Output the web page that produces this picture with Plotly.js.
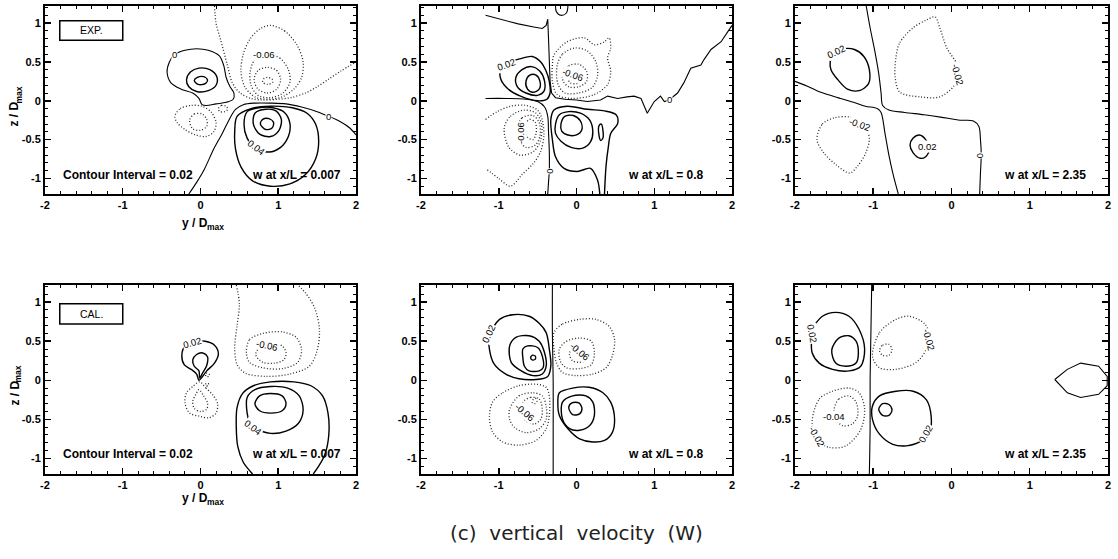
<!DOCTYPE html>
<html><head><meta charset="utf-8">
<script src="https://cdn.plot.ly/plotly-3.0.1.min.js"></script>
<style>html,body{margin:0;padding:0;background:#fff}#chart{width:1118px;height:559px}</style>
</head><body><div id="chart"></div>
<script>
// ---------- axis ticks ----------
const yTickVals = [-2, -1, 0, 1, 2];
const yTickText = ['-2', '-1', '0', '1', '2'];
const zTickVals = [-1, -0.5, 0, 0.5, 1];
const zTickText = ['-1', '-0.5', '0', '0.5', '1'];
const stations = ['0.007', '0.8', '2.35'];
const contourInterval = 0.02;

// ---------- Panel 1 : EXP, x/L = 0.007   (points are [y/Dmax, z/Dmax]) ----------
const P1_n02a = [[0.18,1.22],[0.2,1.0],[0.26,0.78],[0.34,0.48],[0.41,0.23],[0.51,0.1],[0.65,0.03],[0.8,0.01],[1.0,0.02],[1.16,0.04],[1.35,0.1],[1.5,0.18],[1.65,0.28],[1.8,0.38],[2.0,0.5]];
const P1_n04a = [[0.9,0.97],[1.08,0.9],[1.24,0.72],[1.32,0.5],[1.3,0.3],[1.2,0.15],[1.05,0.05],[0.88,0.02],[0.7,0.05],[0.57,0.18],[0.52,0.38],[0.55,0.6],[0.64,0.8],[0.77,0.93]];
const P1_n06a = [[0.85,0.6],[1.02,0.55],[1.13,0.4],[1.15,0.24],[1.06,0.1],[0.9,0.04],[0.74,0.07],[0.65,0.2],[0.64,0.38],[0.7,0.53]];
const P1_n08a = [[0.86,0.43],[0.98,0.39],[1.03,0.27],[0.98,0.15],[0.86,0.1],[0.74,0.15],[0.69,0.27],[0.74,0.39]];
const P1_n10a = [[0.86,0.3],[0.92,0.28],[0.93,0.24],[0.86,0.21],[0.8,0.24],[0.81,0.28]];
const P1_z0a = [[-0.34,0.59],[-0.2,0.65],[-0.05,0.67],[0.1,0.65],[0.24,0.58],[0.3,0.45],[0.33,0.3],[0.38,0.18],[0.43,0.1],[0.42,0.02],[0.33,-0.02],[0.2,-0.04],[0.08,-0.06],[0.02,-0.05],[-0.02,0.03],[-0.1,0.1],[-0.25,0.15],[-0.38,0.23],[-0.43,0.37],[-0.4,0.5]];
const P1_z0b = [[-0.15,-1.2],[-0.05,-1.05],[0.05,-0.88],[0.17,-0.62],[0.28,-0.42],[0.37,-0.24],[0.45,-0.11],[0.55,-0.05],[0.7,-0.03],[0.9,-0.03],[1.1,-0.04],[1.3,-0.08],[1.5,-0.14],[1.65,-0.2],[1.8,-0.27],[1.92,-0.35],[2.0,-0.44]];
const P1_p02a = [[0.47,-0.2],[0.44,-0.4],[0.45,-0.62],[0.52,-0.85],[0.67,-1.03],[0.9,-1.1],[1.15,-1.07],[1.35,-0.95],[1.48,-0.75],[1.52,-0.52],[1.48,-0.3],[1.37,-0.16],[1.18,-0.09],[0.9,-0.07],[0.65,-0.1]];
const P1_p04a = [[0.6,-0.14],[0.56,-0.3],[0.6,-0.48],[0.71,-0.61],[0.88,-0.66],[1.03,-0.6],[1.13,-0.46],[1.15,-0.29],[1.08,-0.15],[0.93,-0.09],[0.75,-0.09]];
const P1_p06a = [[0.7,-0.16],[0.68,-0.3],[0.76,-0.43],[0.9,-0.46],[1.01,-0.38],[1.04,-0.24],[0.97,-0.13],[0.84,-0.11]];
const P1_p08a = [[0.77,-0.3],[0.8,-0.24],[0.88,-0.23],[0.94,-0.28],[0.92,-0.35],[0.84,-0.37]];
const P1_p02b = [[-0.18,0.27],[-0.13,0.37],[-0.02,0.42],[0.12,0.4],[0.21,0.31],[0.2,0.2],[0.1,0.13],[-0.05,0.12],[-0.15,0.18]];
const P1_p04b = [[-0.08,0.26],[-0.04,0.3],[0.04,0.31],[0.09,0.27],[0.06,0.22],[-0.03,0.21]];
const P1_n02b = [[-0.33,-0.2],[-0.26,-0.1],[-0.12,-0.06],[0.02,-0.07],[0.14,-0.15],[0.2,-0.28],[0.17,-0.4],[0.07,-0.46],[-0.06,-0.44],[-0.2,-0.37],[-0.3,-0.28]];
const P1_n04b = [[-0.14,-0.25],[-0.08,-0.17],[0.02,-0.17],[0.08,-0.24],[0.08,-0.33],[0.0,-0.38],[-0.1,-0.36]];
const P1_n02c = [[0.23,-0.1],[0.27,-0.06],[0.33,-0.07],[0.35,-0.11],[0.31,-0.14],[0.25,-0.14]];
const P1_labels = [[-0.34,0.59,'0',0],[0.82,0.6,'-0.06',0],[1.65,-0.2,'0',0],[0.72,-0.6,'0.04',38]];

// ---------- Panel 2 : EXP, x/L = 0.8 ----------
const P2_z0top = [[-0.27,1.22],[-0.26,1.15],[-0.2,1.1],[-0.13,1.13],[-0.11,1.22]];
const P2_z0a = [[-1.17,1.1],[-0.95,1.04],[-0.75,0.99],[-0.55,0.95],[-0.44,0.93],[-0.39,0.97],[-0.37,1.05],[-0.36,0.8],[-0.35,0.5],[-0.34,0.25],[-0.32,0.1],[-0.27,0.04],[-0.15,0.02],[0.0,0.01],[0.14,-0.01],[0.31,0.01],[0.4,0.06],[0.53,0.03],[0.65,0.05],[0.74,0.06],[0.83,0.03],[0.91,-0.16],[1.0,-0.01],[1.08,0.06],[1.13,-0.01],[1.19,0.01],[1.3,0.1],[1.38,0.23],[1.47,0.42],[1.6,0.46],[1.64,0.53],[1.73,0.66],[1.86,0.76],[2.0,0.97]];
const P2_z0b = [[-1.17,0.03],[-0.9,0.03],[-0.65,0.02],[-0.5,-0.01],[-0.41,-0.08],[-0.37,-0.2],[-0.36,-0.4],[-0.35,-0.65],[-0.35,-0.9],[-0.36,-1.05],[-0.37,-1.2]];
const P2_p02a = [[0.3,-1.2],[0.27,-1.02],[0.18,-0.87],[0.01,-0.91],[-0.16,-0.87],[-0.27,-0.72],[-0.31,-0.5],[-0.33,-0.24],[-0.29,-0.12],[-0.12,-0.07],[0.14,-0.11],[0.36,-0.13],[0.51,-0.18],[0.53,-0.29],[0.44,-0.42],[0.41,-0.59],[0.38,-0.84],[0.36,-1.2]];
const P2_p04a = [[-0.27,-0.3],[-0.22,-0.18],[-0.1,-0.14],[0.05,-0.16],[0.17,-0.25],[0.21,-0.4],[0.18,-0.53],[0.08,-0.61],[-0.07,-0.6],[-0.2,-0.52],[-0.27,-0.42]];
const P2_p06a = [[-0.2,-0.3],[-0.15,-0.2],[-0.04,-0.19],[0.05,-0.26],[0.07,-0.37],[0.0,-0.44],[-0.11,-0.44],[-0.19,-0.39]];
const P2_p02s = [[0.29,-0.32],[0.32,-0.3],[0.34,-0.38],[0.34,-0.48],[0.31,-0.51],[0.29,-0.45]];
const P2_p02b = [[-0.97,0.44],[-0.86,0.5],[-0.73,0.54],[-0.57,0.57],[-0.46,0.5],[-0.39,0.38],[-0.35,0.25],[-0.34,0.1],[-0.38,0.02],[-0.5,0.0],[-0.72,0.06],[-0.89,0.16],[-0.98,0.3]];
const P2_p04b = [[-0.78,0.3],[-0.7,0.4],[-0.58,0.44],[-0.47,0.38],[-0.41,0.25],[-0.42,0.12],[-0.5,0.07],[-0.65,0.1],[-0.76,0.18]];
const P2_p06b = [[-0.65,0.25],[-0.6,0.33],[-0.52,0.33],[-0.47,0.25],[-0.48,0.15],[-0.56,0.11],[-0.63,0.15]];
const P2_n02a = [[-0.29,0.59],[-0.12,0.76],[0.1,0.81],[0.23,0.72],[0.36,0.76],[0.42,0.81],[0.44,0.68],[0.4,0.55],[0.44,0.38],[0.4,0.21],[0.23,0.08],[-0.07,0.03],[-0.25,0.08],[-0.31,0.25],[-0.31,0.46]];
const P2_n04a = [[-0.25,0.45],[-0.18,0.6],[-0.02,0.68],[0.14,0.64],[0.25,0.5],[0.27,0.32],[0.2,0.17],[0.03,0.1],[-0.15,0.1],[-0.24,0.22]];
const P2_n06a = [[-0.18,0.35],[-0.1,0.45],[0.03,0.47],[0.13,0.38],[0.13,0.25],[0.03,0.18],[-0.1,0.18],[-0.17,0.25]];
const P2_n08a = [[-0.1,0.27],[-0.04,0.31],[0.04,0.3],[0.06,0.25],[0.0,0.22],[-0.08,0.23]];
const P2_n02b = [[-1.17,-0.24],[-1.02,-0.14],[-0.85,-0.07],[-0.65,-0.06],[-0.5,-0.12],[-0.44,-0.25],[-0.42,-0.45],[-0.46,-0.65],[-0.55,-0.8],[-0.7,-0.95],[-0.85,-1.1],[-1.0,-1.0],[-1.17,-0.87]];
const P2_n04b = [[-0.93,-0.35],[-0.85,-0.2],[-0.68,-0.12],[-0.52,-0.16],[-0.45,-0.3],[-0.46,-0.5],[-0.55,-0.65],[-0.72,-0.7],[-0.87,-0.6]];
const P2_n06b = [[-0.76,-0.35],[-0.7,-0.22],[-0.56,-0.19],[-0.48,-0.28],[-0.47,-0.45],[-0.53,-0.57],[-0.65,-0.6],[-0.74,-0.5]];
const P2_n08b = [[-0.66,-0.3],[-0.6,-0.24],[-0.53,-0.28],[-0.52,-0.42],[-0.56,-0.5],[-0.63,-0.47],[-0.67,-0.38]];
const P2_labels = [[-0.9,0.47,'0.02',-20],[-0.05,0.34,'-0.06',20],[-0.72,-0.42,'-0.06',-90],[-0.35,-0.91,'0',-90],[1.2,0.01,'0',0]];

// ---------- Panel 3 : EXP, x/L = 2.35 ----------
const P3_z0a = [[-1.09,1.22],[-1.04,0.94],[-0.98,0.64],[-0.93,0.35],[-0.9,0.1],[-0.88,-0.06],[-0.8,-0.12],[-0.6,-0.15],[-0.35,-0.18],[-0.14,-0.21],[0.11,-0.25],[0.28,-0.26],[0.35,-0.33],[0.37,-0.5],[0.38,-0.69],[0.37,-0.93],[0.36,-1.2]];
const P3_z0b = [[-2.0,0.25],[-1.85,0.19],[-1.72,0.13],[-1.55,0.07],[-1.42,0.03],[-1.25,-0.02],[-1.1,-0.07],[-0.95,-0.1],[-0.9,-0.15],[-0.85,-0.42],[-0.8,-0.7],[-0.75,-0.93],[-0.68,-1.2]];
const P3_p02a = [[-1.55,0.5],[-1.5,0.62],[-1.38,0.67],[-1.24,0.66],[-1.12,0.57],[-1.05,0.4],[-1.06,0.22],[-1.18,0.13],[-1.33,0.15],[-1.46,0.28],[-1.54,0.4]];
const P3_n02a = [[-0.71,0.56],[-0.66,0.75],[-0.49,0.94],[-0.32,1.04],[-0.21,1.08],[-0.15,0.94],[-0.06,0.68],[0.07,0.47],[0.09,0.33],[0.03,0.19],[-0.15,0.05],[-0.4,0.05],[-0.66,0.11],[-0.72,0.3]];
const P3_n02b = [[-1.72,-0.5],[-1.65,-0.3],[-1.5,-0.22],[-1.3,-0.21],[-1.13,-0.29],[-1.05,-0.48],[-1.1,-0.68],[-1.2,-0.84],[-1.3,-0.93],[-1.48,-0.82],[-1.64,-0.66]];
const P3_p02b = [[-0.49,-0.48],[-0.41,-0.44],[-0.33,-0.5],[-0.28,-0.62],[-0.33,-0.72],[-0.4,-0.74],[-0.49,-0.67],[-0.53,-0.57]];
const P3_labels = [[-1.47,0.63,'0.02',-25],[0.08,0.34,'-0.02',75],[-1.17,-0.3,'-0.02',20],[-0.31,-0.59,'0.02',0],[0.38,-0.7,'0',90]];

// ---------- Panel 4 : CAL, x/L = 0.007 ----------
const P4_n02a = [[0.46,1.22],[0.5,0.98],[0.47,0.7],[0.44,0.42],[0.47,0.2],[0.58,0.09],[0.85,0.05],[1.15,0.08],[1.4,0.18],[1.5,0.38],[1.53,0.65],[1.47,0.92],[1.35,1.12],[1.25,1.22]];
const P4_n04a = [[0.59,0.35],[0.63,0.52],[0.8,0.6],[1.05,0.62],[1.23,0.55],[1.3,0.39],[1.25,0.23],[1.06,0.15],[0.8,0.16],[0.63,0.23]];
const P4_n06a = [[0.71,0.33],[0.77,0.43],[0.9,0.47],[1.05,0.44],[1.1,0.35],[1.07,0.26],[0.95,0.22],[0.8,0.23]];
const P4_p02a = [[0.67,-1.2],[0.55,-1.05],[0.48,-0.85],[0.46,-0.6],[0.47,-0.35],[0.54,-0.17],[0.68,-0.07],[0.9,-0.02],[1.2,-0.02],[1.42,-0.07],[1.57,-0.2],[1.64,-0.42],[1.65,-0.7],[1.6,-0.95],[1.52,-1.1],[1.45,-1.2]];
const P4_p04a = [[0.6,-0.42],[0.6,-0.22],[0.7,-0.12],[0.9,-0.08],[1.12,-0.1],[1.27,-0.2],[1.32,-0.38],[1.26,-0.55],[1.1,-0.65],[0.9,-0.68],[0.72,-0.62],[0.63,-0.53]];
const P4_p06a = [[0.7,-0.3],[0.76,-0.2],[0.9,-0.17],[1.05,-0.2],[1.1,-0.3],[1.05,-0.39],[0.9,-0.42],[0.76,-0.39]];
const P4_p02b = [[-0.02,0.0],[-0.05,0.08],[-0.12,0.14],[-0.21,0.2],[-0.24,0.32],[-0.2,0.44],[-0.08,0.5],[0.06,0.5],[0.18,0.45],[0.23,0.34],[0.18,0.22],[0.08,0.12],[0.02,0.04]];
const P4_p04b = [[-0.01,0.03],[-0.02,0.12],[-0.08,0.18],[-0.1,0.26],[-0.05,0.33],[0.03,0.35],[0.09,0.3],[0.08,0.19],[0.03,0.1]];
const P4_n02b = [[-0.01,-0.02],[0.07,-0.1],[0.16,-0.19],[0.22,-0.3],[0.2,-0.42],[0.11,-0.48],[-0.01,-0.46],[-0.14,-0.42],[-0.2,-0.29],[-0.18,-0.16],[-0.1,-0.08]];
const P4_n04b = [[-0.02,-0.12],[0.04,-0.2],[0.09,-0.29],[0.08,-0.37],[0.0,-0.4],[-0.08,-0.36],[-0.1,-0.27],[-0.06,-0.18]];
const P4_n02c = [[0.07,0.09],[0.11,0.08],[0.11,0.05],[0.07,0.05]];
const P4_n02d = [[0.07,-0.04],[0.1,-0.04],[0.1,-0.07],[0.07,-0.07]];
const P4_labels = [[-0.1,0.48,'0.02',-15],[0.86,0.44,'-0.06',12],[0.68,-0.6,'0.04',38]];

// ---------- Panel 5 : CAL, x/L = 0.8 ----------
const P5_z0a = [[-0.31,1.22],[-0.31,0.6],[-0.3,0.0],[-0.3,-0.6],[-0.3,-1.2]];
const P5_p02a = [[-1.12,0.57],[-0.99,0.78],[-0.82,0.84],[-0.61,0.82],[-0.48,0.73],[-0.39,0.61],[-0.35,0.4],[-0.33,0.19],[-0.37,0.05],[-0.52,0.01],[-0.74,0.02],[-0.91,0.08],[-1.06,0.21],[-1.12,0.4]];
const P5_p04a = [[-0.86,0.44],[-0.78,0.55],[-0.61,0.57],[-0.48,0.5],[-0.41,0.35],[-0.39,0.18],[-0.44,0.08],[-0.56,0.06],[-0.71,0.12],[-0.84,0.23]];
const P5_p06a = [[-0.69,0.4],[-0.63,0.44],[-0.5,0.42],[-0.44,0.31],[-0.43,0.16],[-0.48,0.12],[-0.61,0.12],[-0.67,0.18],[-0.69,0.29]];
const P5_p08a = [[-0.59,0.29],[-0.57,0.32],[-0.53,0.31],[-0.53,0.27],[-0.57,0.26]];
const P5_n02a = [[-0.29,0.61],[-0.18,0.72],[0.04,0.78],[0.25,0.78],[0.42,0.69],[0.49,0.52],[0.46,0.31],[0.38,0.16],[0.21,0.08],[-0.01,0.06],[-0.18,0.1],[-0.26,0.23],[-0.29,0.4]];
const P5_n04a = [[-0.22,0.4],[-0.13,0.5],[0.04,0.54],[0.19,0.5],[0.23,0.35],[0.19,0.2],[0.04,0.15],[-0.13,0.16],[-0.21,0.25]];
const P5_n06a = [[-0.09,0.33],[-0.05,0.42],[0.06,0.42],[0.14,0.33],[0.12,0.25],[0.04,0.23],[-0.05,0.25]];
const P5_n02b = [[-1.08,-0.28],[-0.95,-0.16],[-0.74,-0.07],[-0.52,-0.05],[-0.39,-0.09],[-0.35,-0.2],[-0.35,-0.45],[-0.39,-0.62],[-0.52,-0.77],[-0.74,-0.83],[-0.95,-0.79],[-1.08,-0.66],[-1.12,-0.47]];
const P5_n04b = [[-0.86,-0.37],[-0.74,-0.2],[-0.56,-0.16],[-0.44,-0.2],[-0.39,-0.33],[-0.39,-0.5],[-0.48,-0.62],[-0.65,-0.67],[-0.8,-0.6],[-0.86,-0.5]];
const P5_n06b = [[-0.69,-0.28],[-0.59,-0.22],[-0.48,-0.24],[-0.44,-0.37],[-0.46,-0.5],[-0.54,-0.56],[-0.65,-0.52],[-0.7,-0.4]];
const P5_n08b = [[-0.56,-0.25],[-0.53,-0.23],[-0.51,-0.27],[-0.54,-0.3],[-0.57,-0.28]];
const P5_p02b = [[-0.22,-0.16],[-0.05,-0.1],[0.16,-0.09],[0.34,-0.16],[0.44,-0.28],[0.49,-0.5],[0.46,-0.67],[0.36,-0.77],[0.21,-0.79],[0.04,-0.75],[-0.11,-0.62],[-0.22,-0.45],[-0.24,-0.28]];
const P5_p04b = [[-0.18,-0.28],[-0.05,-0.2],[0.12,-0.2],[0.21,-0.28],[0.23,-0.45],[0.17,-0.58],[0.04,-0.64],[-0.09,-0.62],[-0.18,-0.5]];
const P5_p06b = [[-0.1,-0.35],[-0.06,-0.29],[0.03,-0.29],[0.07,-0.36],[0.04,-0.43],[-0.05,-0.44]];
const P5_labels = [[-1.13,0.6,'0.02',-65],[0.04,0.37,'-0.06',40],[-0.66,-0.41,'-0.06',40]];

// ---------- Panel 6 : CAL, x/L = 2.35 ----------
const P6_z0a = [[-1.02,1.22],[-1.03,0.6],[-1.04,0.0],[-1.04,-0.6],[-1.05,-1.2]];
const P6_z0b = [[1.32,0.01],[1.48,0.14],[1.65,0.22],[1.88,0.18],[1.99,0.05],[1.99,-0.07],[1.88,-0.18],[1.65,-0.22],[1.48,-0.16]];
const P6_p02a = [[-1.78,0.65],[-1.65,0.82],[-1.48,0.87],[-1.31,0.82],[-1.18,0.65],[-1.11,0.4],[-1.16,0.18],[-1.31,0.12],[-1.52,0.14],[-1.69,0.22],[-1.78,0.35],[-1.79,0.52]];
const P6_p04a = [[-1.53,0.39],[-1.44,0.54],[-1.31,0.57],[-1.22,0.5],[-1.19,0.35],[-1.22,0.22],[-1.35,0.18],[-1.48,0.22]];
const P6_n02a = [[-1.01,0.31],[-0.92,0.61],[-0.71,0.78],[-0.54,0.82],[-0.34,0.72],[-0.28,0.57],[-0.32,0.4],[-0.45,0.23],[-0.71,0.14],[-0.92,0.16]];
const P6_n04a = [[-0.92,0.38],[-0.88,0.45],[-0.8,0.46],[-0.76,0.39],[-0.8,0.32],[-0.88,0.32]];
const P6_n02b = [[-1.78,-0.52],[-1.69,-0.24],[-1.52,-0.14],[-1.31,-0.1],[-1.18,-0.16],[-1.11,-0.37],[-1.16,-0.63],[-1.35,-0.84],[-1.56,-0.86],[-1.73,-0.76]];
const P6_n04b = [[-1.5,-0.37],[-1.44,-0.24],[-1.31,-0.2],[-1.22,-0.28],[-1.2,-0.46],[-1.27,-0.56],[-1.39,-0.58],[-1.48,-0.5]];
const P6_p02b = [[-1.01,-0.33],[-0.92,-0.2],[-0.71,-0.14],[-0.49,-0.14],[-0.32,-0.25],[-0.26,-0.46],[-0.28,-0.67],[-0.39,-0.78],[-0.58,-0.84],[-0.75,-0.82],[-0.92,-0.69],[-1.01,-0.5]];
const P6_p04b = [[-0.93,-0.37],[-0.88,-0.3],[-0.8,-0.31],[-0.76,-0.38],[-0.8,-0.45],[-0.88,-0.45]];
const P6_labels = [[-1.78,0.6,'0.02',80],[-0.29,0.52,'-0.02',75],[-1.72,-0.72,'-0.02',60],[-1.5,-0.46,'-0.04',0],[-0.33,-0.68,'0.02',-60]];

// ---------- contour list: [panel, points, level, closed, linear] ----------
const contours = [
  [1,P1_n02a,-0.02,false],[1,P1_n04a,-0.04,true],[1,P1_n06a,-0.06,true],[1,P1_n08a,-0.08,true],[1,P1_n10a,-0.10,true],
  [1,P1_z0a,0,true],[1,P1_z0b,0,false],[1,P1_p02a,0.02,true],[1,P1_p04a,0.04,true],[1,P1_p06a,0.06,true],[1,P1_p08a,0.08,true],
  [1,P1_p02b,0.02,true],[1,P1_p04b,0.04,true],[1,P1_n02b,-0.02,true],[1,P1_n04b,-0.04,true],[1,P1_n02c,-0.02,true],
  [2,P2_z0top,0,false],[2,P2_z0a,0,false,true],[2,P2_z0b,0,false],[2,P2_p02a,0.02,false],[2,P2_p04a,0.04,true],[2,P2_p06a,0.06,true],
  [2,P2_p02s,0.02,true],[2,P2_p02b,0.02,true],[2,P2_p04b,0.04,true],[2,P2_p06b,0.06,true],
  [2,P2_n02a,-0.02,true],[2,P2_n04a,-0.04,true],[2,P2_n06a,-0.06,true],[2,P2_n08a,-0.08,true],
  [2,P2_n02b,-0.02,false],[2,P2_n04b,-0.04,true],[2,P2_n06b,-0.06,true],[2,P2_n08b,-0.08,true],
  [3,P3_z0a,0,false],[3,P3_z0b,0,false],[3,P3_p02a,0.02,true],[3,P3_n02a,-0.02,true],[3,P3_n02b,-0.02,true],[3,P3_p02b,0.02,true],
  [4,P4_n02a,-0.02,false],[4,P4_n04a,-0.04,true],[4,P4_n06a,-0.06,true],[4,P4_p02a,0.02,false],[4,P4_p04a,0.04,true],[4,P4_p06a,0.06,true],
  [4,P4_p02b,0.02,true],[4,P4_p04b,0.04,true],[4,P4_n02b,-0.02,true],[4,P4_n04b,-0.04,true],[4,P4_n02c,-0.02,true],[4,P4_n02d,-0.02,true],
  [5,P5_z0a,0,false],[5,P5_p02a,0.02,true],[5,P5_p04a,0.04,true],[5,P5_p06a,0.06,true],[5,P5_p08a,0.08,true],
  [5,P5_n02a,-0.02,true],[5,P5_n04a,-0.04,true],[5,P5_n06a,-0.06,true],
  [5,P5_n02b,-0.02,true],[5,P5_n04b,-0.04,true],[5,P5_n06b,-0.06,true],[5,P5_n08b,-0.08,true],
  [5,P5_p02b,0.02,true],[5,P5_p04b,0.04,true],[5,P5_p06b,0.06,true],
  [6,P6_z0a,0,false],[6,P6_z0b,0,true,true],[6,P6_p02a,0.02,true],[6,P6_p04a,0.04,true],[6,P6_n02a,-0.02,true],[6,P6_n04a,-0.04,true],
  [6,P6_n02b,-0.02,true],[6,P6_n04b,-0.04,true],[6,P6_p02b,0.02,true],[6,P6_p04b,0.04,true]
];
const labelSets = [P1_labels, P2_labels, P3_labels, P4_labels, P5_labels, P6_labels];

const axn = i => (i === 1 ? '' : String(i));
const traces = contours.map(([p, pts, level, closed, linear]) => {
  const q = closed ? pts.concat([pts[0]]) : pts;
  const neg = level < 0;
  return {
    type: 'scatter', mode: 'lines', xaxis: 'x' + axn(p), yaxis: 'y' + axn(p),
    x: q.map(v => v[0]), y: q.map(v => v[1]),
    line: { color: neg ? '#2a2a2a' : '#000', width: neg ? 1.3 : (level === 0 ? 1.1 : 1.4),
            dash: neg ? '1px,2px' : 'solid', shape: linear ? 'linear' : 'spline', smoothing: 0.9 },
    hoverinfo: 'skip', showlegend: false
  };
});

const W = 1118, H = 559;
const colDom = [[0.04025, 0.31843], [0.37657, 0.65474], [0.71109, 0.99106]];
const rowDom = [[0.65295, 0.98927], [0.15206, 0.49016]];
const tickFont = { family: 'Liberation Sans, Arial, sans-serif', size: 11, color: '#000', weight: 'bold' };
const titleFont = { family: 'Liberation Sans, Arial, sans-serif', size: 12, color: '#000', weight: 'bold' };
const subFont = { family: 'Liberation Sans, Arial, sans-serif', size: 8.5, color: '#000', weight: 'bold' };

const layout = {
  width: W, height: H, margin: { l: 0, r: 0, t: 0, b: 0 },
  paper_bgcolor: '#fff', plot_bgcolor: '#fff', showlegend: false, hovermode: false,
  annotations: [], shapes: []
};
for (let p = 1; p <= 6; p++) {
  const col = (p - 1) % 3, row = p <= 3 ? 0 : 1;
  const common = {
    ticks: 'inside', ticklen: 6, tickwidth: 1.5, tickcolor: '#000',
    showline: true, linewidth: 2, linecolor: '#000', mirror: 'ticks',
    showgrid: false, zeroline: false, tickfont: tickFont, fixedrange: true, tickmode: 'array'
  };
  layout['xaxis' + axn(p)] = Object.assign({}, common, {
    domain: colDom[col], anchor: 'y' + axn(p), range: [-2, 2],
    tickvals: yTickVals, ticktext: yTickText,
    minor: { tickmode: 'linear', tick0: 0, dtick: 0.2, ticks: 'inside', ticklen: 3, tickwidth: 1, tickcolor: '#000' }
  });
  layout['yaxis' + axn(p)] = Object.assign({}, common, {
    domain: rowDom[row], anchor: 'x' + axn(p), range: [-1.2, 1.22],
    tickvals: zTickVals, ticktext: zTickText,
    minor: { tickmode: 'linear', tick0: 0, dtick: 0.1, ticks: 'inside', ticklen: 3, tickwidth: 1, tickcolor: '#000' }
  });
  labelSets[p - 1].forEach(([x, y, t, ang]) => {
    layout.annotations.push({ xref: 'x' + axn(p), yref: 'y' + axn(p), x, y, text: t, textangle: ang,
      showarrow: false, bgcolor: '#fff', borderpad: 0,
      font: { family: 'Liberation Sans, Arial, sans-serif', size: 9.5, color: '#000' } });
  });
  layout.annotations.push({ xref: 'x' + axn(p), yref: 'y' + axn(p), x: col === 0 ? 1.83 : (col === 1 ? 1.65 : 1.75), y: -0.95,
    xanchor: 'right', yanchor: 'middle', showarrow: false, text: 'w at x/L = ' + stations[col], font: titleFont });
  if (col === 0) {
    layout.annotations.push({ xref: 'x' + axn(p), yref: 'y' + axn(p), x: -1.8, y: -0.95, xanchor: 'left', yanchor: 'middle',
      showarrow: false, text: 'Contour Interval = ' + contourInterval, font: titleFont });
    const y0 = row === 0 ? 0.78 : 0.72, y1 = row === 0 ? 1.03 : 0.98;
    layout.shapes.push({ type: 'rect', xref: 'x' + axn(p), yref: 'y' + axn(p), x0: -1.81, x1: -1.0, y0, y1,
      line: { color: '#000', width: 1.5 }, fillcolor: 'rgba(0,0,0,0)' });
    layout.annotations.push({ xref: 'x' + axn(p), yref: 'y' + axn(p), x: -1.405, y: (y0 + y1) / 2, showarrow: false,
      text: row === 0 ? 'EXP.' : 'CAL.', font: { family: 'Liberation Sans, Arial, sans-serif', size: 10.5, color: '#000' } });

    // axis titles "y / Dmax" and "z / Dmax" (main part + subscript part)
    const xTitleY = row === 0 ? 223 : 498;      // px from top
    const zMid = row === 0 ? 102 : 381;         // px of z = 0
    layout.annotations.push({ xref: 'paper', yref: 'paper', x: 209 / W, y: 1 - xTitleY / H, xanchor: 'right', yanchor: 'middle',
      showarrow: false, text: 'y / D', borderpad: 0, font: titleFont });
    layout.annotations.push({ xref: 'paper', yref: 'paper', x: 206 / W, y: 1 - (xTitleY + 4) / H, xanchor: 'left', yanchor: 'middle',
      showarrow: false, text: 'max', borderpad: 0, font: subFont });
    layout.annotations.push({ xref: 'paper', yref: 'paper', x: 14 / W, y: 1 - (zMid + 26) / H, xanchor: 'center', yanchor: 'bottom',
      showarrow: false, text: 'z / D', textangle: -90, borderpad: 0, font: titleFont });
    layout.annotations.push({ xref: 'paper', yref: 'paper', x: 18 / W, y: 1 - (zMid + 3) / H, xanchor: 'center', yanchor: 'bottom',
      showarrow: false, text: 'max', textangle: -90, borderpad: 0, font: subFont });
  }
}
layout.annotations.push({ xref: 'paper', yref: 'paper', x: 0.516, y: 1 - 533 / H, xanchor: 'center', yanchor: 'middle',
  showarrow: false, text: '(c)  vertical  velocity  (W)',
  font: { family: 'DejaVu Sans, sans-serif', size: 20, color: '#222' } });

Plotly.newPlot('chart', traces, layout, { staticPlot: true, displayModeBar: false });
</script>
</body></html>
